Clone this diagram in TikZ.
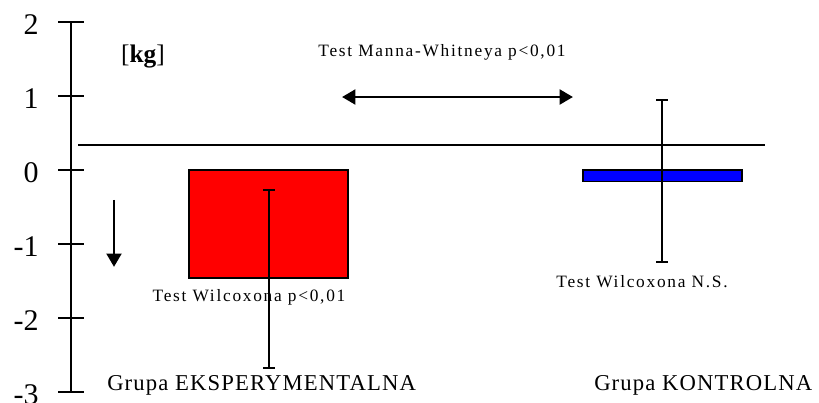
\documentclass[tikz,border=0pt]{standalone}
\usepackage{fontspec}
\setmainfont{Liberation Serif}
\usetikzlibrary{arrows.meta}

\tikzset{
          axis/.style = {draw = black, line width = 0.8pt},
          ticklabel/.style = {anchor = east, inner sep = 0pt, font = \fontsize{22.5}{22.5}\selectfont},
          barbox/.style = {draw = black, line width = 1pt, fill = #1},
          errbar/.style = {draw = black, line width = 1.3pt},
          testlabel/.style = {inner sep = 0pt, font = \fontsize{13}{13}\selectfont\addfontfeature{LetterSpace=10}},
          grouplabel/.style = {anchor = west, inner sep = 0pt, font = \fontsize{17}{17}\selectfont\addfontfeature{LetterSpace=5}},
          bigarrow/.style = {draw = black, line width = 2.2pt, -{Triangle[length=10pt,width=11pt]}}
        }

\begin{document}
\begin{tikzpicture}[x=0.75pt,y=55.5pt]
          \useasboundingbox (0,-3.149) rectangle (819,2.297);

          % y axis with ticks
          \draw[axis] (71,2) -- (71,-3);
          \foreach \v/\n in {2/a,1/b,0/c,-1/d,-2/e,-3/f}{
            \draw[axis] (58,\v) -- (84,\v);
            \node[ticklabel] (tick\n) at (39,\v-0.04) {\v};
          }
          \node[inner sep = 0pt, font = \fontsize{19}{19}\selectfont] (unit) at (143,1.53) {[\textbf{kg}]};

          % reference level
          \draw[line width = 1.1pt] (78,0.34) -- (765,0.34);

          % bars
          \draw[barbox=red]  (189,0) rectangle (348,-1.46);
          \draw[barbox=blue] (583,0) rectangle (742,-0.16);

          % error bars
          \foreach \x/\lo/\hi/\n in {269/-2.68/-0.27/exp, 662/-1.24/0.95/ctl}{
            \coordinate (\n lo) at (\x,\lo);
            \coordinate (\n hi) at (\x,\hi);
            \draw[errbar] (\n lo) -- (\n hi);
            \draw[errbar] ([xshift=-4.5pt]\n lo) -- ([xshift=4.5pt]\n lo);
            \draw[errbar] ([xshift=-4.5pt]\n hi) -- ([xshift=4.5pt]\n hi);
          }

          % arrows
          \coordinate (mwl) at (342,0.986);
          \coordinate (mwr) at (573,0.986);
          \draw[bigarrow, {Triangle[length=10pt,width=11pt]}-{Triangle[length=10pt,width=11pt]}] (mwl) -- (mwr);
          \coordinate (downtop) at (114,-0.405);
          \coordinate (downtip) at (114,-1.31);
          \draw[bigarrow] (downtop) -- (downtip);

          % labels
          \node[testlabel] (mw)    at (442,1.59)  {Test Manna-Whitneya p<0,01};
          \node[testlabel] (wilk1) at (249,-1.72) {Test Wilcoxona p<0,01};
          \node[testlabel] (wilk2) at (642,-1.51) {Test Wilcoxona N.S.};
          \node[grouplabel] (grpexp) at (107,-2.91) {Grupa EKSPERYMENTALNA};
          \node[grouplabel] (grpctl) at (594,-2.91) {Grupa KONTROLNA};
        \end{tikzpicture}
\end{document}
